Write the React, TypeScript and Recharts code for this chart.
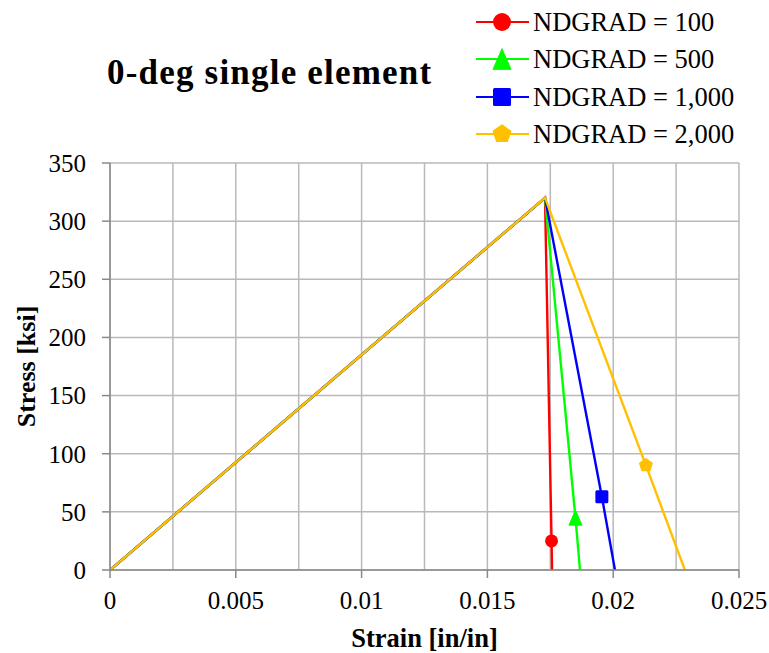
import React from 'react';
import { ComposedChart, Line, XAxis, YAxis, CartesianGrid, Legend } from 'recharts';

const FONT = '"Liberation Serif", "Times New Roman", Times, serif';

const SERIES_NAMES = ['NDGRAD = 100', 'NDGRAD = 500', 'NDGRAD = 1,000', 'NDGRAD = 2,000'];
const SERIES_COLORS = ['#ff0000', '#00ff00', '#0000ff', '#ffc000'];
const SERIES_MARKERS = ['circle', 'triangle', 'square', 'pentagon'];

// strain [in/in] / stress [ksi], one marker point per curve
const STRAIN_100 = [0, 0.01729, 0.01755, 0.01757];
const STRESS_100 = [0, 320, 25, 0];
const STRAIN_500 = [0, 0.01729, 0.0185, 0.01868];
const STRESS_500 = [0, 320, 45, 0];
const STRAIN_1000 = [0, 0.01729, 0.01955, 0.02007];
const STRESS_1000 = [0, 320, 63, 0];
const STRAIN_2000 = [0, 0.01729, 0.0213, 0.02285];
const STRESS_2000 = [0, 320, 90, 0];
const MARKER_INDEX = 2;

const X_TICKS = [0, 0.0025, 0.005, 0.0075, 0.01, 0.0125, 0.015, 0.0175, 0.02, 0.0225, 0.025];
const X_LABELS = ['0', '', '0.005', '', '0.01', '', '0.015', '', '0.02', '', '0.025'];
const Y_TICKS = [0, 50, 100, 150, 200, 250, 300, 350];

const zip = (xs: number[], ys: number[]) => xs.map((x, i) => ({ x, y: ys[i], marker: i === MARKER_INDEX }));

const SERIES = [
  zip(STRAIN_100, STRESS_100),
  zip(STRAIN_500, STRESS_500),
  zip(STRAIN_1000, STRESS_1000),
  zip(STRAIN_2000, STRESS_2000),
];

const drawMarker = (kind: string, cx: number, cy: number, s: number, color: string, key?: any) => {
  if (kind === 'circle') return <circle key={key} cx={cx} cy={cy} r={s / 2} fill={color} />;
  if (kind === 'square') return <rect key={key} x={cx - s / 2} y={cy - s / 2} width={s} height={s} rx={1.5} fill={color} />;
  if (kind === 'triangle') {
    const h = s * 1.15;
    return <polygon key={key} points={`${cx},${cy - h / 2} ${cx + s / 2},${cy + h / 2} ${cx - s / 2},${cy + h / 2}`} fill={color} stroke={color} strokeLinejoin="round" />;
  }
  const r = s / 2;
  const pts = [0, 1, 2, 3, 4].map((i) => {
    const a = -Math.PI / 2 + (i * 2 * Math.PI) / 5;
    return `${cx + r * Math.cos(a)},${cy + r * Math.sin(a)}`;
  });
  return <polygon key={key} points={pts.join(' ')} fill={color} stroke={color} strokeWidth={1.5} strokeLinejoin="round" />;
};

const XTick = (props: any) => {
  const { x, y, index } = props;
  const label = X_LABELS[index];
  if (!label) return <g />;
  return (
    <g>
      <line x1={x} x2={x} y1={y - 10} y2={y - 2} stroke="#898989" strokeWidth={1.5} />
      <text x={x} y={y + 29} textAnchor="middle" style={{ fontFamily: FONT }} fontSize={25} fill="#000">{label}</text>
    </g>
  );
};

const LegendBox = () => (
  <div style={{ fontFamily: FONT, fontSize: 26.5, color: '#000' }}>
    {SERIES_NAMES.map((name, i) => (
      <div key={name} style={{ display: 'flex', alignItems: 'center', height: 37.5 }}>
        <svg width={58} height={30} style={{ display: 'block' }}>
          <line x1={1} x2={54} y1={15} y2={15} stroke={SERIES_COLORS[i]} strokeWidth={2.2} />
          {drawMarker(SERIES_MARKERS[i], 27, 15, 18, SERIES_COLORS[i])}
        </svg>
        <span style={{ lineHeight: '30px', fontFamily: FONT, whiteSpace: 'nowrap' }}>{name}</span>
      </div>
    ))}
  </div>
);

export default function App() {
  return (
    <div style={{ position: 'absolute', left: 0, top: 0, width: 769, height: 653, background: '#fff', fontFamily: FONT }}>
      <div style={{ position: 'absolute', left: 107, top: 55, fontFamily: FONT, fontWeight: 'bold', fontSize: 35, lineHeight: '35px', letterSpacing: 1.2, whiteSpace: 'nowrap' }}>
        0-deg single element
      </div>
      <ComposedChart width={769} height={653} margin={{ top: 163, right: 30, bottom: 0, left: 0 }} style={{ fontFamily: FONT }}>
        <CartesianGrid stroke="#b9b9b9" strokeWidth={1.5} />
        <XAxis
          type="number"
          dataKey="x"
          domain={[0, 0.025]}
          ticks={X_TICKS}
          interval={0}
          allowDataOverflow
          height={83}
          tickSize={8}
          tickMargin={2}
          tickLine={false}
          tick={<XTick />}
          axisLine={{ stroke: '#898989', strokeWidth: 1.5 }}
          label={{ value: 'Strain [in/in]', position: 'insideBottom', offset: 6, style: { fontFamily: FONT, fontWeight: 'bold', fontSize: 26.5, fill: '#000' } }}
        />
        <YAxis
          type="number"
          domain={[0, 350]}
          ticks={Y_TICKS}
          interval={0}
          width={110}
          tickSize={8}
          tickMargin={16}
          tickLine={{ stroke: '#898989', strokeWidth: 1.5 }}
          axisLine={{ stroke: '#898989', strokeWidth: 1.5 }}
          tick={{ style: { fontFamily: FONT }, fontSize: 25, fill: '#000' }}
          label={{ value: 'Stress [ksi]', angle: -90, position: 'insideLeft', offset: 26, style: { textAnchor: 'middle', fontFamily: FONT, fontWeight: 'bold', fontSize: 26, fill: '#000' } }}
        />
        <Legend
          verticalAlign="middle"
          align="center"
          layout="vertical"
          content={<LegendBox />}
          wrapperStyle={{ position: 'absolute', top: 3, left: 475, width: 294 }}
        />
        {SERIES.map((data, i) => (
          <Line
            key={SERIES_NAMES[i]}
            data={data}
            dataKey="y"
            name={SERIES_NAMES[i]}
            type="linear"
            stroke={SERIES_COLORS[i]}
            strokeWidth={2.4}
            isAnimationActive={false}
            activeDot={false}
            dot={(p: any) =>
              p.payload.marker
                ? drawMarker(SERIES_MARKERS[i], p.cx, p.cy, 13, SERIES_COLORS[i], `m-${i}`)
                : <g key={`d-${i}-${p.index}`} />
            }
          />
        ))}
      </ComposedChart>
    </div>
  );
}
